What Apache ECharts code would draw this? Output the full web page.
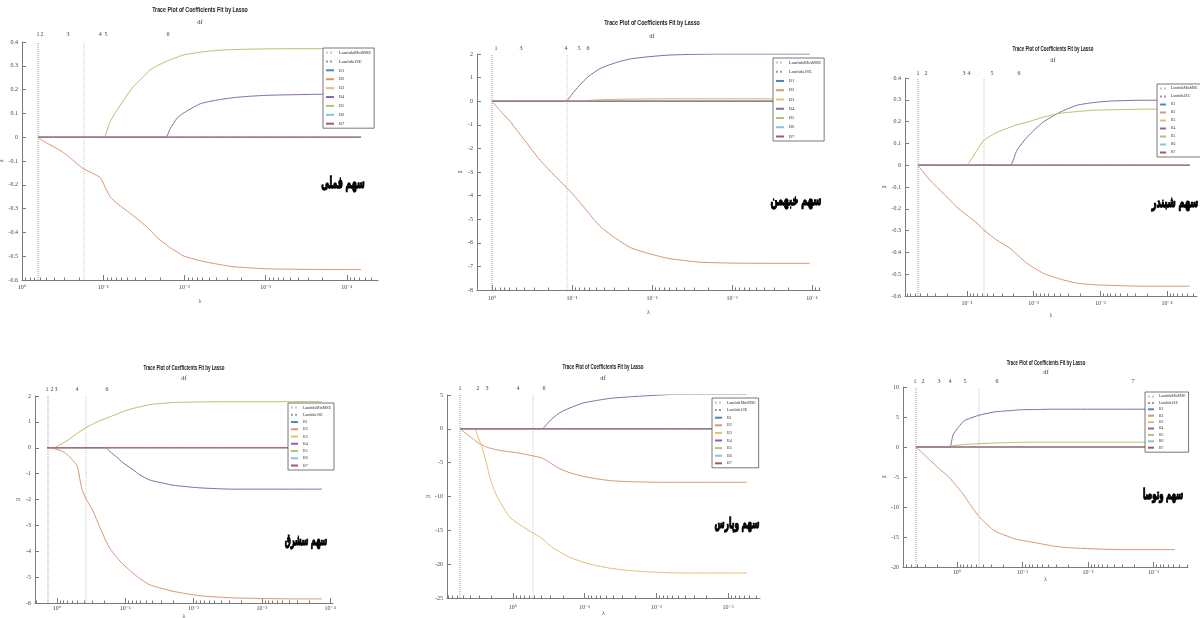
<!DOCTYPE html>
<html>
<head>
<meta charset="utf-8">
<script src="https://cdn.jsdelivr.net/npm/echarts@6/dist/echarts.min.js"></script>
<style>
  html, body { margin: 0; padding: 0; background: #fff; }
  #chart { width: 1200px; height: 618px; }
</style>
</head>
<body>
<div id="chart"></div>
<script>
// ---------------- data: lasso coefficient traces for six stocks ----------------
const coefNames = ['B1', 'B2', 'B3', 'B4', 'B5', 'B6', 'B7'];
const panelTitle = 'Trace Plot of Coefficients Fit by Lasso';

// سهم فملی
const p1Name = 'سهم فملی';
const p1Lambda = [0.635, 0.567, 0.340, 0.279, 0.177, 0.109, 0.0977, 0.0824, 0.0676, 0.0430, 0.0324, 0.0265, 0.0217, 0.0169, 0.0150, 0.0123, 0.0104, 0.00643, 0.00397, 0.00252, 0.00156, 0.000962, 0.000377, 0.000148, 0.0000668];
const p1B2 = [0, -0.013, -0.055, -0.076, -0.131, -0.169, -0.2, -0.25, -0.278, -0.329, -0.363, -0.39, -0.422, -0.45, -0.464, -0.482, -0.498, -0.519, -0.533, -0.544, -0.549, -0.553, -0.555, -0.556, -0.556];
const p1B4 = [0, 0, 0, 0, 0, 0, 0, 0, 0, 0, 0, 0, 0, 0, 0.035, 0.08, 0.10, 0.14, 0.156, 0.166, 0.172, 0.176, 0.179, 0.181, 0.181];
const p1B5 = [0, 0, 0, 0, 0, 0, 0, 0.065, 0.114, 0.211, 0.252, 0.283, 0.300, 0.318, 0.325, 0.336, 0.345, 0.357, 0.365, 0.368, 0.370, 0.371, 0.372, 0.372, 0.372];
const p1Lambda1SE = 0.635;
const p1LambdaMinMSE = 0.1725;
const p1DfLambda = [0.635, 0.567, 0.271, 0.109, 0.0924, 0.0159];
const p1DfLabel = ['1', '2', '3', '4', '5', '6'];
const p1XTicks = [1, 0.1, 0.01, 0.001, 0.0001];
const p1XTickLabels = ['10⁰', '10⁻¹', '10⁻²', '10⁻³', '10⁻⁴'];

// سهم خبهمن
const p2Name = 'سهم خبهمن';
const p2Lambda = [1.0, 0.794, 0.596, 0.447, 0.335, 0.251, 0.188, 0.150, 0.119, 0.100, 0.0817, 0.0631, 0.0447, 0.0274, 0.0173, 0.00649, 0.00251, 0.000972, 0.000335, 0.000106];
const p2B2 = [0, -0.4, -0.85, -1.4, -1.95, -2.5, -2.95, -3.3, -3.64, -3.9, -4.25, -4.7, -5.3, -5.85, -6.25, -6.65, -6.82, -6.86, -6.87, -6.87];
const p2B4 = [0, 0, 0, 0, 0, 0, 0, 0, 0, 0.3, 0.65, 1.03, 1.38, 1.65, 1.81, 1.95, 1.99, 2.0, 2.0, 2.0];
const p2B5 = [0, 0, 0, 0, 0, 0, 0, 0, 0, 0, 0, 0.03, 0.06, 0.08, 0.09, 0.1, 0.1, 0.1, 0.1, 0.1];
const p2Lambda1SE = 1.0;
const p2LambdaMinMSE = 0.1155;
const p2DfLambda = [0.891, 0.434, 0.119, 0.0817, 0.0631];
const p2DfLabel = ['1', '3', '4', '5', '6'];
const p2XTicks = [1, 0.1, 0.01, 0.001, 0.0001];
const p2XTickLabels = ['10⁰', '10⁻¹', '10⁻²', '10⁻³', '10⁻⁴'];

// سهم شبندر
const p3Name = 'سهم شبندر';
const p3Lambda = [0.543, 0.359, 0.229, 0.141, 0.1035, 0.0708, 0.0556, 0.0355, 0.0226, 0.0178, 0.0126, 0.00726, 0.00404, 0.00224, 0.00129, 0.000718, 0.000230, 0.0000454];
const p3B2 = [0, -0.069, -0.128, -0.193, -0.226, -0.266, -0.298, -0.344, -0.381, -0.41, -0.45, -0.495, -0.522, -0.541, -0.548, -0.551, -0.555, -0.555];
const p3B4 = [0, 0, 0, 0, 0, 0, 0, 0, 0, 0.069, 0.128, 0.197, 0.243, 0.275, 0.287, 0.294, 0.298, 0.298];
const p3B5 = [0, 0, 0, 0, 0, 0.069, 0.115, 0.151, 0.174, 0.185, 0.197, 0.22, 0.238, 0.246, 0.252, 0.254, 0.257, 0.257];
const p3Lambda1SE = 0.543;
const p3LambdaMinMSE = 0.0556;
const p3DfLambda = [0.543, 0.412, 0.111, 0.0933, 0.0422, 0.0166];
const p3DfLabel = ['1', '2', '3', '4', '5', '6'];
const p3XTicks = [0.1, 0.01, 0.001, 0.0001];
const p3XTickLabels = ['10⁻¹', '10⁻²', '10⁻³', '10⁻⁴'];

// سهم سشرق
const p4Name = 'سهم سشرق';
const p4Lambda = [1.40, 1.106, 0.904, 0.714, 0.509, 0.460, 0.431, 0.376, 0.352, 0.297, 0.234, 0.192, 0.1675, 0.1324, 0.1081, 0.0771, 0.0610, 0.0435, 0.0245, 0.0200, 0.00805, 0.00265, 0.000415, 0.000132];
const p4B2 = [0, -0.04, -0.1, -0.25, -0.7, -1.25, -1.6, -1.98, -2.1, -2.45, -3.1, -3.6, -3.9, -4.25, -4.5, -4.85, -5.06, -5.3, -5.49, -5.55, -5.72, -5.8, -5.84, -5.84];
const p4B4 = [0, 0, 0, 0, 0, 0, 0, 0, 0, 0, 0, 0, -0.15, -0.37, -0.58, -0.85, -1.05, -1.25, -1.4, -1.45, -1.55, -1.6, -1.6, -1.6];
const p4B5 = [0, 0, 0.12, 0.27, 0.55, 0.63, 0.68, 0.78, 0.82, 0.92, 1.05, 1.13, 1.2, 1.3, 1.4, 1.52, 1.58, 1.67, 1.73, 1.75, 1.77, 1.78, 1.78, 1.78];
const p4Lambda1SE = 1.355;
const p4LambdaMinMSE = 0.376;
const p4DfLambda = [1.40, 1.183, 1.034, 0.509, 0.1854];
const p4DfLabel = ['1', '2', '3', '4', '6'];
const p4XTicks = [1, 0.1, 0.01, 0.001, 0.0001];
const p4XTickLabels = ['10⁰', '10⁻¹', '10⁻²', '10⁻³', '10⁻⁴'];

// سهم وپارس
const p5Name = 'سهم وپارس';
const p5Lambda = [5.48, 4.25, 3.39, 3.18, 2.71, 2.31, 2.09, 1.671, 1.213, 1.101, 0.798, 0.526, 0.394, 0.325, 0.277, 0.221, 0.160, 0.1057, 0.0766, 0.0444, 0.0257, 0.01538, 0.00891, 0.00516, 0.00247, 0.000545];
const p5B2 = [0, -0.9, -1.7, -1.95, -2.4, -2.7, -2.85, -3.1, -3.35, -3.4, -3.6, -4.0, -4.3, -4.8, -5.3, -5.9, -6.5, -7.0, -7.3, -7.65, -7.8, -7.85, -7.9, -7.9, -7.9, -7.9];
const p5B3 = [0, 0, 0, -0.8, -2.7, -5.3, -7.3, -10, -12.5, -13.1, -14.2, -15.4, -16.2, -17.0, -17.6, -18.2, -19.0, -19.7, -20.1, -20.6, -20.9, -21.1, -21.2, -21.3, -21.3, -21.3];
const p5B4 = [0, 0, 0, 0, 0, 0, 0, 0, 0, 0, 0, 0, 0, 0.9, 1.6, 2.4, 3.1, 3.8, 4.1, 4.5, 4.7, 4.85, 5.0, 5.1, 5.1, 5.1];
const p5Lambda1SE = 5.48;
const p5LambdaMinMSE = 0.526;
const p5DfLambda = [5.48, 3.08, 2.31, 0.852, 0.370];
const p5DfLabel = ['1', '2', '3', '4', '6'];
const p5XTicks = [1, 0.1, 0.01, 0.001];
const p5XTickLabels = ['10⁰', '10⁻¹', '10⁻²', '10⁻³'];

// سهم وتوصا
const p6Name = 'سهم وتوصا';
const p6Lambda = [4.23, 3.30, 2.58, 1.884, 1.422, 1.279, 1.151, 1.0, 0.810, 0.703, 0.461, 0.282, 0.245, 0.1396, 0.1092, 0.0601, 0.0342, 0.01884, 0.00324, 0.00047];
const p6B2 = [0, -1.1, -2.2, -3.6, -4.7, -5.2, -5.8, -6.6, -7.8, -8.8, -11.6, -13.8, -14.2, -15.2, -15.5, -16.0, -16.5, -16.8, -17.1, -17.1];
const p6B4 = [0, 0, 0, 0, 0, 0, 2.0, 3.0, 4.2, 4.6, 5.3, 5.8, 5.9, 6.1, 6.2, 6.25, 6.3, 6.3, 6.3, 6.3];
const p6B5 = [0, 0, 0, 0, 0.1, 0.15, 0.2, 0.3, 0.4, 0.45, 0.55, 0.65, 0.68, 0.75, 0.78, 0.8, 0.8, 0.8, 0.8, 0.8];
const p6Lambda1SE = 4.23;
const p6LambdaMinMSE = 0.461;
const p6DfLambda = [4.38, 3.30, 1.884, 1.279, 0.755, 0.245, 0.00206];
const p6DfLabel = ['1', '2', '3', '4', '5', '6', '7'];
const p6XTicks = [1, 0.1, 0.01, 0.001];
const p6XTickLabels = ['10⁰', '10⁻¹', '10⁻²', '10⁻³'];

// ---------------- styling ----------------
const coefColors = ['#4f86bf', '#d99672', '#e2c070', '#8b68a3', '#b3c26e', '#86c3e0', '#a8566a'];
const minMseColor = '#c4c9c0';
const oneSeColor = '#9a9aaa';
const axisColor = '#7a7a7a';
const labelColor = '#444';
const serif = "'Liberation Serif', 'DejaVu Serif', serif";
const sans = "'Liberation Sans', Arial, sans-serif";

// per-panel layout: grid box [left, top, width, height], text anchors, axis ranges
const panels = [
  { name: p1Name, lambda: p1Lambda, coefs: { B2: p1B2, B4: p1B4, B5: p1B5 }, oneSE: p1Lambda1SE, minMSE: p1LambdaMinMSE,
    dfLambda: p1DfLambda, dfLabel: p1DfLabel, xTicks: p1XTicks, xTickLabels: p1XTickLabels,
    xMin: 0.0000413, xMax: 1, yMin: -0.6, yMax: 0.4, yStep: 0.1,
    grid: [22, 42, 356, 238], title: [200, 10, 8, 0.66], df: [200, 22], legend: [323, 48, 3.9, 4.6, 8], tag: [343, 184, 16, 0.49],
    dfMargin: 5, xLabMargin: 4, lamGap: 18, betaGap: 16 },
  { name: p2Name, lambda: p2Lambda, coefs: { B2: p2B2, B4: p2B4, B5: p2B5 }, oneSE: p2Lambda1SE, minMSE: p2LambdaMinMSE,
    dfLambda: p2DfLambda, dfLabel: p2DfLabel, xTicks: p2XTicks, xTickLabels: p2XTickLabels,
    xMin: 0.0000794, xMax: 1.54, yMin: -8, yMax: 2, yStep: 1,
    grid: [477, 54, 343, 236], title: [652, 23, 8, 0.66], df: [652, 36], legend: [773, 58, 4.25, 4.6, 8], tag: [796, 201, 16, 0.52],
    dfMargin: 3, xLabMargin: 5, lamGap: 19, betaGap: 14 },
  { name: p3Name, lambda: p3Lambda, coefs: { B2: p3B2, B4: p3B4, B5: p3B5 }, oneSE: p3Lambda1SE, minMSE: p3LambdaMinMSE,
    dfLambda: p3DfLambda, dfLabel: p3DfLabel, xTicks: p3XTicks, xTickLabels: p3XTickLabels,
    xMin: 0.0000356, xMax: 0.850, yMin: -0.6, yMax: 0.4, yStep: 0.1,
    grid: [905, 78, 292, 218], title: [1053, 49, 7, 0.64], df: [1053, 60], legend: [1157, 84, 3.0, 3.8, 6], tag: [1175, 203, 15, 0.54],
    dfMargin: 2, xLabMargin: 4, lamGap: 16, betaGap: 16 },
  { name: p4Name, lambda: p4Lambda, coefs: { B2: p4B2, B4: p4B4, B5: p4B5 }, oneSE: p4Lambda1SE, minMSE: p4LambdaMinMSE,
    dfLambda: p4DfLambda, dfLabel: p4DfLabel, xTicks: p4XTicks, xTickLabels: p4XTickLabels,
    xMin: 0.0000910, xMax: 2.10, yMin: -6, yMax: 2, yStep: 1,
    grid: [35, 396, 298, 207], title: [184, 368, 7, 0.64], df: [184, 378], legend: [288, 403, 2.25, 4.0, 7], tag: [306, 541, 15, 0.45],
    dfMargin: 4, xLabMargin: 2, lamGap: 10, betaGap: 14 },
  { name: p5Name, lambda: p5Lambda, coefs: { B2: p5B2, B3: p5B3, B4: p5B4 }, oneSE: p5Lambda1SE, minMSE: p5LambdaMinMSE,
    dfLambda: p5DfLambda, dfLabel: p5DfLabel, xTicks: p5XTicks, xTickLabels: p5XTickLabels,
    xMin: 0.000359, xMax: 8.32, yMin: -25, yMax: 5, yStep: 5,
    grid: [447, 395, 313, 203], title: [603, 367, 7, 0.64], df: [603, 378], legend: [712, 398, 2.6, 4.1, 7], tag: [737, 524, 15, 0.49],
    dfMargin: 4, xLabMargin: 6, lamGap: 12, betaGap: 16 },
  { name: p6Name, lambda: p6Lambda, coefs: { B2: p6B2, B4: p6B4, B5: p6B5 }, oneSE: p6Lambda1SE, minMSE: p6LambdaMinMSE,
    dfLambda: p6DfLambda, dfLabel: p6DfLabel, xTicks: p6XTicks, xTickLabels: p6XTickLabels,
    xMin: 0.000297, xMax: 6.67, yMin: -20, yMax: 10, yStep: 5,
    grid: [903, 387, 285, 180], title: [1046, 363, 7, 0.62], df: [1046, 372], legend: [1145, 392, 1.4, 3.8, 6], tag: [1163, 495, 14, 0.5],
    dfMargin: 3, xLabMargin: 2, lamGap: 9, betaGap: 16 }
];

// label lookup on a log axis: pick the listed value closest in log space
function nearestLabel(v, values, labels) {
  let best = 0, bd = Infinity;
  values.forEach((x, i) => {
    const d = Math.abs(Math.log10(x) - Math.log10(v));
    if (d < bd) { bd = d; best = i; }
  });
  return labels[best];
}

// minor ticks of a log axis: 2..9 times each power of ten inside [lo, hi]
function logMinorTicks(lo, hi) {
  const out = [];
  for (let e = Math.floor(Math.log10(lo)); e <= Math.ceil(Math.log10(hi)); e++) {
    for (let k = 2; k <= 9; k++) {
      const v = k * Math.pow(10, e);
      if (v > lo && v < hi) out.push(v);
    }
  }
  return out;
}

const option = {
  animation: false,
  backgroundColor: '#ffffff',
  legend: [], grid: [], xAxis: [], yAxis: [], series: [], graphic: []
};

const legendNames = ['LambdaMinMSE', 'Lambda1SE'].concat(coefNames);

panels.forEach((p, pi) => {
  option.grid.push({
    left: p.grid[0], top: p.grid[1], width: p.grid[2], height: p.grid[3],
    containLabel: false, outerBoundsMode: 'none', show: false
  });

  const common = {
    type: 'log', logBase: 10, inverse: true, min: p.xMin, max: p.xMax,
    gridIndex: pi, splitLine: { show: false }, minorTick: { show: false }, minorSplitLine: { show: false }
  };
  const xBase = option.xAxis.length;
  // main bottom axis: decades with labels
  option.xAxis.push(Object.assign({}, common, {
    position: 'bottom',
    name: 'λ', nameLocation: 'middle', nameGap: p.lamGap,
    nameTextStyle: { fontSize: 6, color: labelColor, fontFamily: serif },
    axisLine: { show: true, onZero: false, lineStyle: { color: axisColor, width: 1 } },
    axisTick: { show: true, inside: true, length: 5, customValues: p.xTicks, lineStyle: { color: axisColor, width: 1 } },
    axisLabel: { show: true, margin: p.xLabMargin, customValues: p.xTicks, hideOverlap: false,
      formatter: v => nearestLabel(v, p.xTicks, p.xTickLabels),
      fontSize: 6, color: labelColor, fontFamily: serif }
  }));
  // minor ticks
  option.xAxis.push(Object.assign({}, common, {
    position: 'bottom',
    axisLine: { show: false, onZero: false },
    axisTick: { show: true, inside: true, length: 2.5, customValues: logMinorTicks(p.xMin, p.xMax), lineStyle: { color: axisColor, width: 1 } },
    axisLabel: { show: false }
  }));
  // degrees of freedom along the top
  option.xAxis.push(Object.assign({}, common, {
    position: 'top',
    axisLine: { show: false, onZero: false },
    axisTick: { show: false },
    axisLabel: { show: true, margin: p.dfMargin, customValues: p.dfLambda, hideOverlap: false,
      formatter: v => nearestLabel(v, p.dfLambda, p.dfLabel),
      fontSize: 6, color: labelColor, fontFamily: serif }
  }));

  option.yAxis.push({
    type: 'value', gridIndex: pi, min: p.yMin, max: p.yMax, interval: p.yStep,
    name: 'β', nameLocation: 'middle', nameGap: p.betaGap, nameRotate: 90,
    nameTextStyle: { fontSize: 6, color: labelColor, fontFamily: serif },
    axisLine: { show: true, onZero: false, lineStyle: { color: axisColor, width: 1 } },
    axisTick: { show: true, inside: true, length: 4, lineStyle: { color: axisColor, width: 1 } },
    axisLabel: { margin: 4, fontSize: 6, color: labelColor, fontFamily: serif },
    splitLine: { show: false }
  });

  // cross-validation reference lines
  const vline = (name, lam, color) => ({
    type: 'line', name: name, xAxisIndex: xBase, yAxisIndex: pi,
    data: [[lam, p.yMin], [lam, p.yMax]], symbol: 'circle', showSymbol: false, silent: true,
    lineStyle: { type: 'dotted', width: 1, color: color }, itemStyle: { color: color }
  });
  option.series.push(vline('LambdaMinMSE', p.minMSE, minMseColor));
  option.series.push(vline('Lambda1SE', p.oneSE, oneSeColor));

  // coefficient traces; inactive coefficients stay at zero over the whole path
  const n = p.lambda.length;
  coefNames.forEach((nm, ci) => {
    const vals = p.coefs[nm];
    const data = vals ? p.lambda.map((l, i) => [l, vals[i]]) : [[p.lambda[0], 0], [p.lambda[n - 1], 0]];
    option.series.push({
      type: 'line', name: nm, xAxisIndex: xBase, yAxisIndex: pi, data: data,
      symbol: 'circle', showSymbol: false, silent: true, smooth: 0.2,
      lineStyle: { width: 1, color: coefColors[ci] }, itemStyle: { color: coefColors[ci] }
    });
  });

  // legend keys are plain line samples (marker hidden)
  option.legend.push({
    left: p.legend[0], top: p.legend[1], orient: 'vertical', data: legendNames,
    selectedMode: false, itemWidth: p.legend[4], itemHeight: 5, itemGap: p.legend[2],
    padding: [2, 3, 2, 2], borderColor: '#555', borderWidth: 0.8, backgroundColor: '#fff',
    itemStyle: { opacity: 0 },
    textStyle: { fontSize: p.legend[3], lineHeight: 5, color: '#333', fontFamily: serif }
  });

  // titles: narrow bold heading, the "df" caption and the stock name
  option.graphic.push({
    type: 'text', x: p.title[0], y: p.title[1], scaleX: p.title[3], silent: true,
    style: { text: panelTitle, fontSize: p.title[2], fontWeight: 'bold', fontFamily: sans, fill: '#222',
      align: 'center', verticalAlign: 'middle' }
  });
  option.graphic.push({
    type: 'text', x: p.df[0], y: p.df[1], silent: true,
    style: { text: 'df', fontSize: 6.5, fontFamily: serif, fill: '#333', align: 'center', verticalAlign: 'middle' }
  });
  option.graphic.push({
    type: 'text', x: p.tag[0], y: p.tag[1], scaleX: p.tag[3], silent: true,
    style: { text: p.name, fontSize: p.tag[2], fontWeight: 'bold', fontFamily: "'DejaVu Sans', sans-serif",
      fill: '#000', stroke: '#000', lineWidth: 1.3, align: 'center', verticalAlign: 'middle' }
  });
});

const chart = echarts.init(document.getElementById('chart'), null, { renderer: 'canvas' });
chart.setOption(option);
</script>
</body>
</html>
